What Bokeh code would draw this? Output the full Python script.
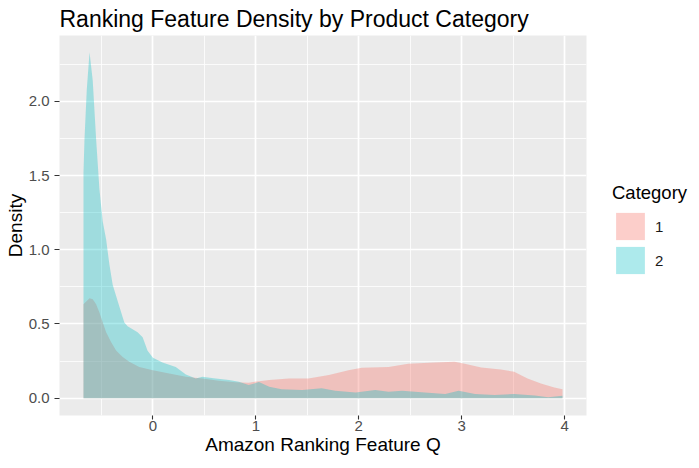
from bokeh.plotting import figure
from bokeh.models import FixedTicker, NumeralTickFormatter, Range1d, Legend, LegendItem
from bokeh.embed import file_html
from bokeh.resources import INLINE

FONT = "Liberation Sans"

# ---- data ----
categories = ["1", "2"]

x_cat1 = [-0.675, -0.616, -0.585, -0.552, -0.52, -0.488, -0.455, -0.407, -0.358, -0.294,
          -0.23, -0.133, 0.0, 0.158, 0.32, 0.48, 0.64, 0.80, 0.93, 1.03, 1.13, 1.32, 1.51,
          1.71, 1.90, 2.03, 2.29, 2.48, 2.74, 2.93, 3.03, 3.19, 3.38, 3.51, 3.64, 3.77,
          3.90, 3.98]
dens_cat1 = [0.633, 0.673, 0.667, 0.633, 0.578, 0.511, 0.445, 0.378, 0.322, 0.278,
             0.245, 0.211, 0.189, 0.167, 0.145, 0.133, 0.118, 0.107, 0.105, 0.115, 0.122,
             0.133, 0.133, 0.156, 0.189, 0.205, 0.211, 0.233, 0.240, 0.245, 0.233, 0.207,
             0.193, 0.178, 0.133, 0.100, 0.073, 0.060]

x_cat2 = [-0.675, -0.665, -0.643, -0.616, -0.585, -0.552, -0.52, -0.488, -0.455, -0.423,
          -0.391, -0.343, -0.278, -0.246, -0.149, -0.10, -0.052, 0.0, 0.093, 0.222, 0.32,
          0.416, 0.48, 0.61, 0.74, 0.835, 0.93, 1.03, 1.13, 1.25, 1.45, 1.64, 1.77, 1.97,
          2.16, 2.29, 2.42, 2.61, 2.84, 2.97, 3.13, 3.32, 3.51, 3.71, 3.84, 3.98]
dens_cat2 = [1.52, 1.75, 2.08, 2.33, 2.14, 1.745, 1.41, 1.19, 1.07, 0.90,
             0.765, 0.655, 0.51, 0.485, 0.445, 0.41, 0.32, 0.272, 0.24, 0.211, 0.16,
             0.133, 0.145, 0.133, 0.122, 0.111, 0.089, 0.109, 0.078, 0.060, 0.056, 0.067,
             0.051, 0.038, 0.056, 0.043, 0.051, 0.040, 0.029, 0.051, 0.029, 0.022, 0.029,
             0.018, 0.007, 0.016]

x_ticks = [0, 1, 2, 3, 4]
x_minor = [-0.5, 0.5, 1.5, 2.5, 3.5]
y_ticks = [0.0, 0.5, 1.0, 1.5, 2.0]
y_minor = [0.25, 0.75, 1.25, 1.75, 2.25]

colors = ["#F8766D", "#00BFC4"]
alphas = [0.36, 0.32]

p = figure(frame_width=527, frame_height=380,
           x_range=Range1d(-0.908, 4.213), y_range=Range1d(-0.1163, 2.443),
           output_backend="svg", toolbar_location=None,
           min_border_left=59, min_border_right=97, min_border_top=33, min_border_bottom=39,
           background_fill_color="#EBEBEB", border_fill_color="white",
           outline_line_color=None)

p.title.text = "Ranking Feature Density by Product Category"
p.title.text_font = FONT
p.title.text_font_size = "23px"
p.title.text_font_style = "normal"
p.title.text_color = "#000000"
p.title.align = "left"
p.title.standoff = 7

r1 = p.varea(x=x_cat1, y1=0, y2=dens_cat1, fill_color=colors[0], fill_alpha=alphas[0])
r2 = p.varea(x=x_cat2, y1=0, y2=dens_cat2, fill_color=colors[1], fill_alpha=alphas[1])

p.xaxis.ticker = FixedTicker(ticks=x_ticks, minor_ticks=x_minor)
p.yaxis.ticker = FixedTicker(ticks=y_ticks, minor_ticks=y_minor)
p.yaxis.formatter = NumeralTickFormatter(format="0.0")

p.grid.grid_line_color = "white"
p.grid.grid_line_width = 1.7
p.grid.minor_grid_line_color = "white"
p.grid.minor_grid_line_width = 0.8

for ax in (p.xaxis, p.yaxis):
    ax.axis_line_color = None
    ax.major_tick_line_color = "#333333"
    ax.major_tick_line_width = 1.1
    ax.major_tick_out = 5
    ax.major_tick_in = 0
    ax.minor_tick_out = 0
    ax.minor_tick_in = 0
    ax.major_label_text_font = FONT
    ax.major_label_text_font_size = "15px"
    ax.major_label_text_color = "#4D4D4D"
    ax.axis_label_text_font = FONT
    ax.axis_label_text_font_size = "19px"
    ax.axis_label_text_font_style = "normal"
    ax.axis_label_text_color = "#000000"

p.xaxis.axis_label = "Amazon Ranking Feature Q"
p.yaxis.axis_label = "Density"
p.xaxis.major_tick_out = 4
p.xaxis.major_label_standoff = 1
p.xaxis.axis_label_standoff = 0
p.yaxis.major_label_standoff = 5
p.yaxis.axis_label_standoff = 0

legend = Legend(items=[LegendItem(label=categories[0], renderers=[r1]),
                       LegendItem(label=categories[1], renderers=[r2])],
                location=(26, 138))
legend.title = "Category"
legend.title_text_font = FONT
legend.title_text_font_size = "18.5px"
legend.title_text_font_style = "normal"
legend.title_text_color = "#000000"
legend.title_standoff = 5
legend.label_text_font = FONT
legend.label_text_font_size = "15px"
legend.label_text_color = "#1A1A1A"
legend.glyph_width = 36
legend.glyph_height = 34
legend.spacing = 0
legend.label_standoff = 7
legend.padding = 0
legend.margin = 0
legend.border_line_color = None
legend.background_fill_alpha = 0
p.add_layout(legend, "right")

open("out.html", "w").write(file_html(p, INLINE))
